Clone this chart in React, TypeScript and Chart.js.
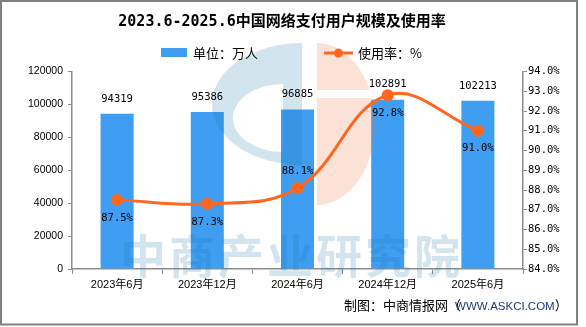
import React, { useEffect, useRef } from 'react';
import { Chart, registerables } from 'chart.js';

Chart.register(...registerables);

// ---- data ----
const categories = ['2023年6月', '2023年12月', '2024年6月', '2024年12月', '2025年6月'];
const users = [94319, 95386, 96885, 102891, 102213];
const rates = [87.5, 87.3, 88.1, 92.8, 91.0];
const leftAxis = { min: 0, max: 120000, step: 20000 };
const rightAxis = { min: 84, max: 94, step: 1 };
const titleText = '2023.6-2025.6中国网络支付用户规模及使用率';
const seriesNames = ['单位：万人', '使用率：%'];
const sourceParts = ['制图：中商情报网', '（', 'WWW.ASKCI.COM', '）'];
const watermarkText = '中商产业研究院';

// ---- styles ----
const BAR = '#3F9DF2';
const LINE = '#FF661E';
const AXIS = '#8c8c8c';
const MONO = '"DejaVu Sans Mono", "Noto Sans CJK SC", monospace';
const SANS = '"Liberation Sans", "Noto Sans CJK SC", sans-serif';
const CJK = '"Noto Sans CJK SC", "Liberation Sans", sans-serif';
const rateLabelSide = ['below', 'below', 'above', 'below', 'below'];

const decorPlugin = {
  id: 'decor',
  afterDatasetsDraw(chart: any) {
    const ctx = chart.ctx;
    const W = chart.width;
    const H = chart.height;
    ctx.save();
    // logo watermark
    ctx.fillStyle = 'rgba(30,120,170,0.2)';
    ctx.beginPath();
    ctx.ellipse(302, 104, 90, 61, 0, Math.PI / 2, (3 * Math.PI) / 2, false);
    ctx.closePath();
    ctx.moveTo(283, 84);
    ctx.ellipse(283, 118, 50, 34, 0, (3 * Math.PI) / 2, Math.PI / 2, true);
    ctx.closePath();
    ctx.fill('evenodd');

    ctx.save();
    ctx.beginPath();
    ctx.rect(0, 0, W, 90);
    ctx.rect(0, 98, W, H);
    ctx.clip();
    ctx.fillStyle = 'rgba(240,110,50,0.2)';
    ctx.beginPath();
    ctx.ellipse(317, 124, 58, 81, 0, -Math.PI / 2, Math.PI / 2, false);
    ctx.closePath();
    ctx.fill();
    ctx.restore();

    // text watermark
    ctx.fillStyle = 'rgba(30,120,170,0.2)';
    ctx.font = 'bold 46px "Noto Sans CJK SC"';
    ctx.textAlign = 'left';
    ctx.textBaseline = 'alphabetic';
    const chars = Array.from(watermarkText);
    chars.forEach((c, i) => ctx.fillText(c, 120 + i * 49, 273));
    ctx.restore();
  },
  afterDraw(chart: any) {
    const ctx = chart.ctx;
    ctx.save();
    // value labels
    ctx.fillStyle = '#000';
    ctx.font = '10.5px ' + MONO;
    ctx.textAlign = 'center';
    ctx.textBaseline = 'middle';
    chart.getDatasetMeta(0).data.forEach((bar: any, i: number) => {
      ctx.fillText(String(users[i]), bar.x, bar.y - 15);
    });
    chart.getDatasetMeta(1).data.forEach((pt: any, i: number) => {
      const dy = rateLabelSide[i] === 'above' ? -17 : 18;
      ctx.fillText(rates[i].toFixed(1) + '%', pt.x, pt.y + dy);
    });

    // title
    ctx.font = 'bold 15px ' + MONO;
    ctx.fillText(titleText, 282, 22);

    // legend
    ctx.textAlign = 'left';
    ctx.fillStyle = BAR;
    ctx.fillRect(161, 48, 26, 9);
    ctx.fillStyle = '#000';
    ctx.font = '13px ' + CJK;
    ctx.fillText(seriesNames[0], 193, 53);
    ctx.strokeStyle = LINE;
    ctx.lineWidth = 3;
    ctx.beginPath();
    ctx.moveTo(324, 53);
    ctx.lineTo(353, 53);
    ctx.stroke();
    ctx.fillStyle = LINE;
    ctx.beginPath();
    ctx.arc(338.5, 53, 4.5, 0, Math.PI * 2);
    ctx.fill();
    ctx.fillStyle = '#000';
    ctx.font = '13px ' + CJK;
    ctx.fillText(seriesNames[1], 358, 53);

    // frame
    ctx.strokeStyle = '#808080';
    ctx.lineWidth = 2;
    ctx.strokeRect(1, 1, 576, 323.5);
    ctx.restore();
  },
};

export default function App() {
  const ref = useRef<HTMLCanvasElement>(null);
  useEffect(() => {
    if (!ref.current) return;
    const chart = new Chart(ref.current, {
      type: 'bar',
      data: {
        labels: categories,
        datasets: [
          {
            type: 'bar',
            label: seriesNames[0],
            data: users,
            backgroundColor: BAR,
            yAxisID: 'y',
            barPercentage: 0.366,
            categoryPercentage: 1,
            order: 2,
          } as any,
          {
            type: 'line',
            label: seriesNames[1],
            data: rates,
            yAxisID: 'y1',
            borderColor: LINE,
            backgroundColor: LINE,
            borderWidth: 3,
            pointRadius: 4.5,
            pointHoverRadius: 4.5,
            tension: 0.4,
            order: 1,
          } as any,
        ],
      },
      options: {
        responsive: false,
        animation: false,
        events: [],
        layout: { padding: { top: 71.5, left: 0, right: 0, bottom: 0 } },
        plugins: {
          legend: { display: false },
          title: { display: false },
          tooltip: { enabled: false },
        },
        scales: {
          x: {
            offset: true,
            grid: { offset: true, drawOnChartArea: false, tickLength: 5, color: AXIS },
            border: { color: AXIS, width: 1.5 },
            ticks: { color: '#000', font: { family: SANS, size: 11 }, padding: 4, maxRotation: 0 },
            afterFit: (s: any) => { s.height = 58; },
          },
          y: {
            position: 'left',
            min: leftAxis.min,
            max: leftAxis.max,
            grid: { drawOnChartArea: false, tickLength: 4, color: AXIS },
            border: { color: AXIS, width: 1.5 },
            ticks: {
              stepSize: leftAxis.step,
              color: '#000',
              font: { family: SANS, size: 10.5 },
              padding: 5,
              callback: (v: any) => String(v),
            },
            afterFit: (s: any) => { s.width = 72; },
          },
          y1: {
            position: 'right',
            min: rightAxis.min,
            max: rightAxis.max,
            grid: { drawOnChartArea: false, tickLength: 4, color: AXIS },
            border: { color: AXIS, width: 1.5 },
            ticks: {
              stepSize: rightAxis.step,
              color: '#000',
              font: { family: MONO, size: 10.5 },
              padding: 1,
              callback: (v: any) => Number(v).toFixed(1) + '%',
            },
            afterFit: (s: any) => { s.width = 63; },
          },
        },
      } as any,
      plugins: [decorPlugin],
    });
    return () => chart.destroy();
  }, []);
  return (
    <div style={{ position: 'fixed', left: 0, top: 0, width: 586, height: 327, background: '#fff' }}>
      <canvas ref={ref} width={586} height={327} style={{ display: 'block', width: 586, height: 327 }} />
      <div
        style={{
          position: 'absolute',
          left: 344,
          top: 297,
          whiteSpace: 'nowrap',
          fontFamily: CJK,
          fontSize: 13,
          lineHeight: '16px',
          color: '#000',
        }}
      >
        {sourceParts[0]}
        <span>{sourceParts[1]}</span>
        <span style={{ fontFamily: '"Liberation Sans", sans-serif', fontSize: 11.5, color: '#1f3a7a', marginLeft: -6 }}>
          {sourceParts[2]}
        </span>
        <span>{sourceParts[3]}</span>
      </div>
    </div>
  );
}
